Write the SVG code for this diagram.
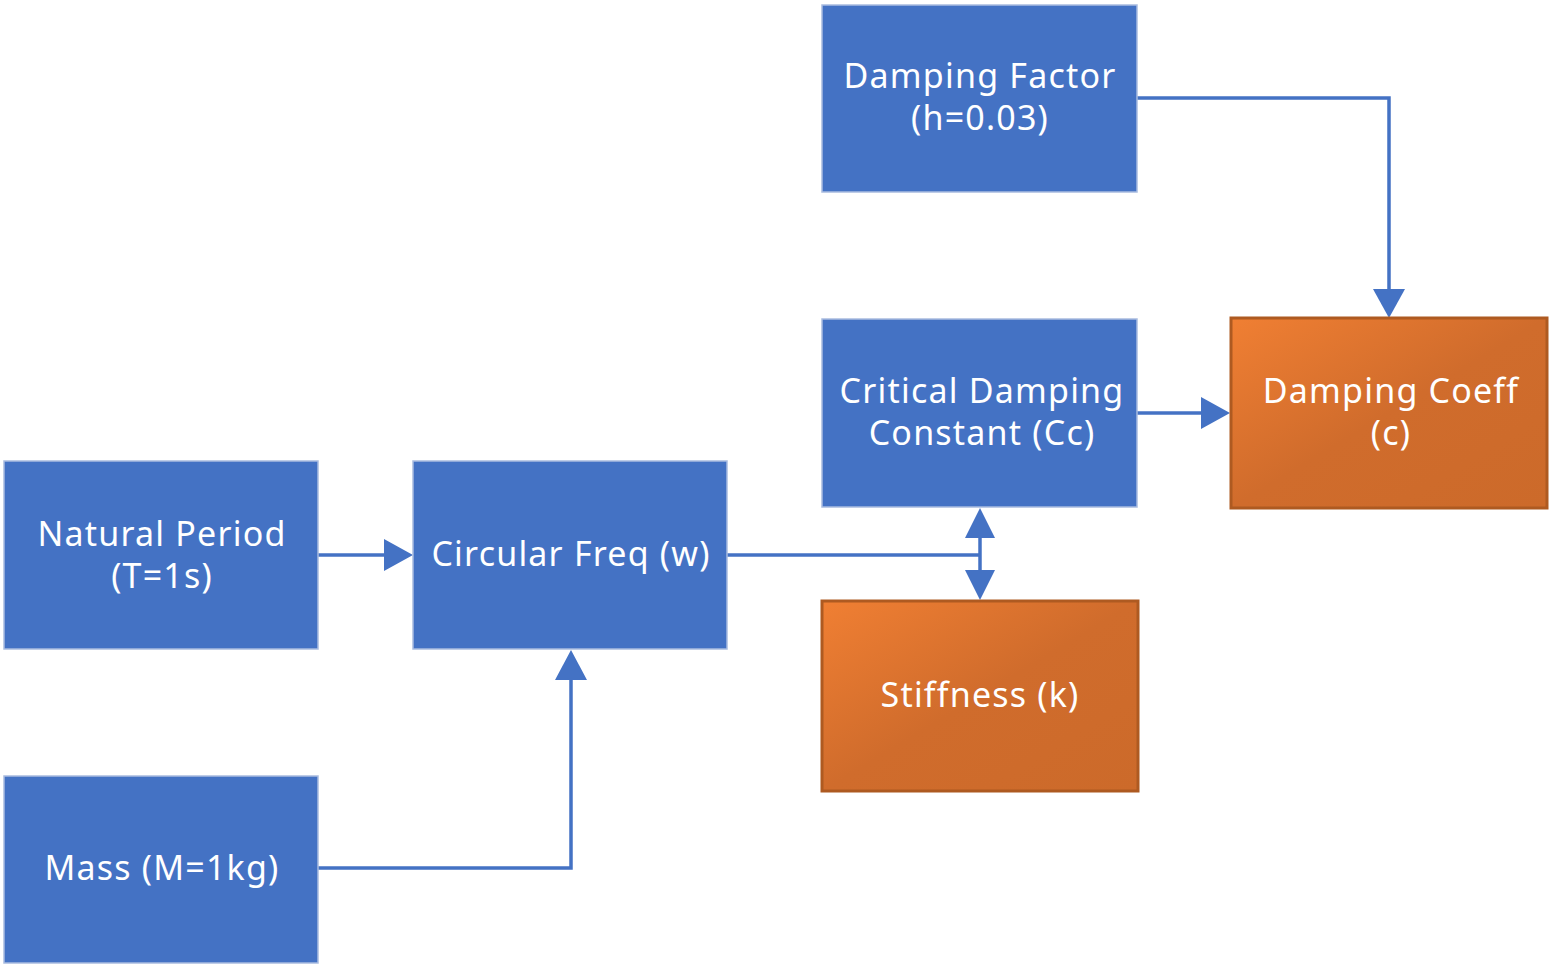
<svg xmlns="http://www.w3.org/2000/svg" width="1552" height="968" viewBox="0 0 1552 968">
<defs>
<linearGradient id="og" x1="0" y1="0" x2="1" y2="1">
<stop offset="0" stop-color="#F07F33"/>
<stop offset="0.5" stop-color="#D06C2C"/>
<stop offset="1" stop-color="#CC6A2A"/>
</linearGradient>
</defs>
<style>
.b{fill:#4472C4;stroke:#A9BCE0;stroke-width:1.5}
.o{fill:url(#og);stroke:#AE5A21;stroke-width:3}
.t{font-family:"Noto Sans","Open Sans",sans-serif;font-size:34px;fill:#fff;text-anchor:middle;letter-spacing:1.2px}
.c{fill:none;stroke:#4472C4;stroke-width:3.5}
.h{fill:#4472C4}
</style>
<rect width="1552" height="968" fill="#fff"/>
<g id="connectors">
<path class="c" d="M318,555 H384"/>
<path class="h" d="M384,539 L413,555 L384,571 Z"/>
<path class="c" d="M318,868 H571 V679"/>
<path class="h" d="M555,680 L571,650 L587,680 Z"/>
<path class="c" d="M727,555 H980"/>
<path class="c" d="M980,537 V571"/>
<path class="h" d="M965,538 L980,508 L995,538 Z"/>
<path class="h" d="M965,570 L980,600 L995,570 Z"/>
<path class="c" d="M1137,413 H1201"/>
<path class="h" d="M1201,397 L1230,413 L1201,429 Z"/>
<path class="c" d="M1137,98 H1389 V289"/>
<path class="h" d="M1373,289 L1389,318 L1405,289 Z"/>
</g>
<g id="natural-period">
<rect class="b" x="4" y="461" width="314" height="188"/>
<text class="t" x="162" y="546">Natural Period</text>
<text class="t" x="162" y="588">(T=1s)</text>
</g>
<g id="circular-freq">
<rect class="b" x="413" y="461" width="314" height="188"/>
<text class="t" x="571" y="566">Circular Freq (w)</text>
</g>
<g id="mass">
<rect class="b" x="4" y="776" width="314" height="187"/>
<text class="t" x="162" y="880">Mass (M=1kg)</text>
</g>
<g id="damping-factor">
<rect class="b" x="822" y="5" width="315" height="187"/>
<text class="t" x="980" y="88">Damping Factor</text>
<text class="t" x="980" y="130">(h=0.03)</text>
</g>
<g id="critical-damping">
<rect class="b" x="822" y="319" width="315" height="188"/>
<text class="t" x="982" y="403">Critical Damping</text>
<text class="t" x="982" y="445">Constant (Cc)</text>
</g>
<g id="damping-coeff">
<rect class="o" x="1231" y="318" width="316" height="190"/>
<text class="t" x="1391" y="403">Damping Coeff</text>
<text class="t" x="1391" y="445">(c)</text>
</g>
<g id="stiffness">
<rect class="o" x="822" y="601" width="316" height="190"/>
<text class="t" x="980" y="707">Stiffness (k)</text>
</g>
</svg>
